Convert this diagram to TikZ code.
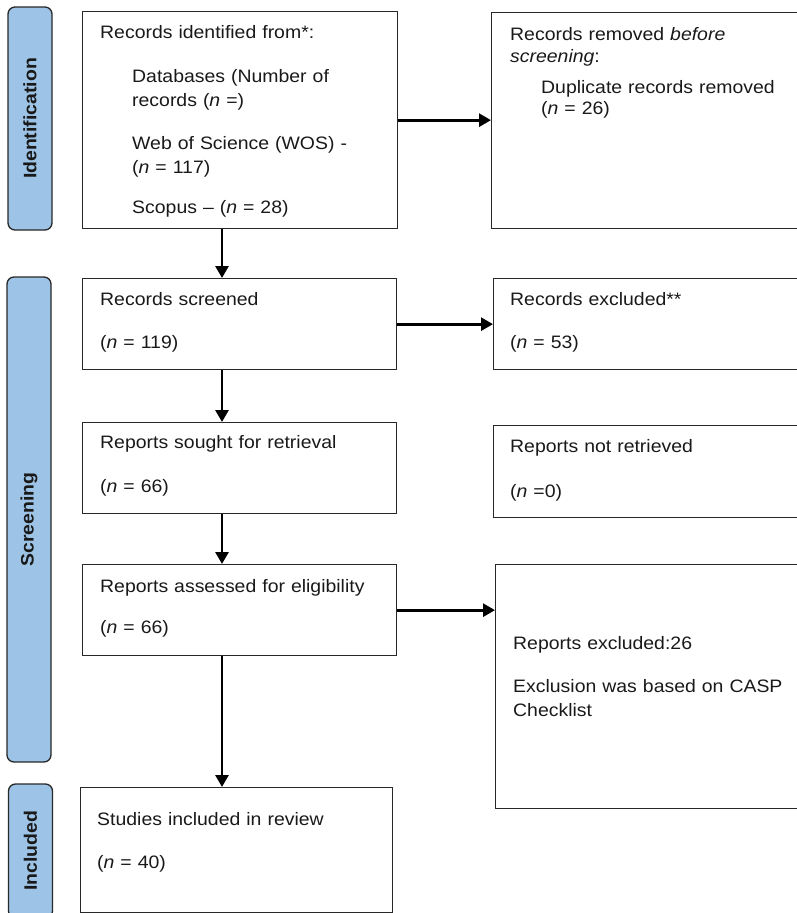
\documentclass[tikz,border=0pt]{standalone}
\usepackage{fontspec}
\setmainfont{Liberation Sans}[FakeStretch=1.08]
\usetikzlibrary{arrows.meta,positioning}
\definecolor{tabblue}{RGB}{157,195,230}
\definecolor{boxline}{RGB}{40,40,40}

\tikzset{
	box/.style={draw=boxline, line width=1.3pt, inner sep=0pt, anchor=north west},
	tab/.style={draw=boxline, fill=tabblue, line width=1.3pt, rounded corners=7pt, rotate=90,
		minimum height=44pt, inner sep=0pt, text=black!90, font=\fontsize{18}{20}\selectfont\bfseries},
	txt/.style={anchor=base west, align=left, inner sep=0pt, text width=290pt, text=black!90,
		font=\fontsize{18}{24.5}\selectfont},
	arr/.style={line width=2.8pt, -{Triangle[length=12pt,width=13pt]}},
}
\newcommand{\ind}{\hspace*{32pt}}

\begin{document}
\begin{tikzpicture}[x=1pt,y=-1pt]
		\useasboundingbox (0,0) rectangle (797,913);
		\node[tab, minimum width=223pt] (idtab) at (30,118.5) {Identification};
		\node[tab, minimum width=485pt] (scrtab) at (29,519.5) {Screening};
		\node[tab, minimum width=134pt] (inctab) at (30.5,851) {Included};
		
		\node[box, minimum width=315pt, minimum height=217pt] (idbox) at (82,11) {};
		\node[box, minimum width=314pt, minimum height=91pt] (screened) at (82,278) {};
		\node[box, minimum width=314pt, minimum height=91pt] (sought) at (82,422) {};
		\node[box, minimum width=314pt, minimum height=91pt] (assessed) at (82,564) {};
		\node[box, minimum width=312pt, minimum height=125pt] (studies) at (80,787) {};
		
		\node[box, minimum width=319pt, minimum height=216pt] (removed) at (491,12) {};
		\node[box, minimum width=317pt, minimum height=91pt] (excluded) at (493,278) {};
		\node[box, minimum width=317pt, minimum height=92pt] (notret) at (493,425) {};
		\node[box, minimum width=315pt, minimum height=244pt] (repexcl) at (495,564) {};
		
		\node[txt] (idtxt) at (100,38) {Records identified from*:\\[19.5pt]
			\ind Databases (Number of\\ \ind records (\textit{n} =)\\[18pt]
			\ind Web of Science (WOS) -\\ \ind (\textit{n} = 117)\\[15pt]
			\ind Scopus -- (\textit{n} = 28)};
		\node[txt] (screenedtxt) at (100,305) {Records screened\\[18.5pt] (\textit{n} = 119)};
		\node[txt] (soughttxt) at (100,448) {Reports sought for retrieval\\[19.5pt] (\textit{n} = 66)};
		\node[txt] (assessedtxt) at (100,592) {Reports assessed for eligibility\\[16.5pt] (\textit{n} = 66)};
		\node[txt] (studiestxt) at (97,825) {Studies included in review\\[18.5pt] (\textit{n} = 40)};
		
		\node[txt] (removedtxt) at (510,40) {Records removed \textit{before}\\[-2.5pt] \textit{screening}:\\[6.5pt]
			\hspace*{31pt}Duplicate records removed\\[-3pt] \hspace*{31pt}(\textit{n} = 26)};
		\node[txt] (excludedtxt) at (510,305) {Records excluded**\\[18.5pt] (\textit{n} = 53)};
		\node[txt] (notrettxt) at (510,452) {Reports not retrieved\\[20.5pt] (\textit{n} =0)};
		\node[txt] (repexcltxt) at (513,649) {Reports excluded:26\\[18.5pt] Exclusion was based on CASP\\ Checklist};
		
		\coordinate (spine) at (222,0);
		\draw[arr] (spine |- idbox.south) -- (spine |- screened.north);
		\draw[arr] (spine |- screened.south) -- (spine |- sought.north);
		\draw[arr] (spine |- sought.south) -- (spine |- assessed.north);
		\draw[arr] (spine |- assessed.south) -- (spine |- studies.north);
		
		\draw[arr] (idbox.east) -- (idbox.east -| removed.west);
		\draw[arr] (screened.east) -- (screened.east -| excluded.west);
		\draw[arr] (assessed.east) -- (assessed.east -| repexcl.west);
	\end{tikzpicture}
\end{document}
